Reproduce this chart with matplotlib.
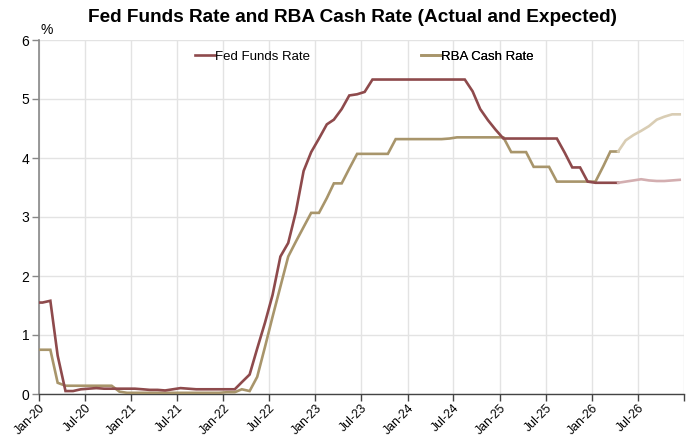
# Fed Funds Rate e RBA Cash Rate - atual e esperado
import numpy as np
import pandas as pd
import matplotlib
matplotlib.use("Agg")
import matplotlib.pyplot as plt
import matplotlib.dates as mdates

# =====================================================
# DADOS (medias mensais, dez/2019 a abr/2026)
# =====================================================

inicio_atual = "2019-12-01"

fed_atual = [
    1.55,
    1.55, 1.58, 0.65, 0.05, 0.05, 0.08, 0.09, 0.10, 0.09, 0.09, 0.09, 0.09,
    0.09, 0.08, 0.07, 0.07, 0.06, 0.08, 0.10, 0.09, 0.08, 0.08, 0.08, 0.08,
    0.08, 0.08, 0.20, 0.33, 0.77, 1.21, 1.68, 2.33, 2.56, 3.08, 3.78, 4.10,
    4.33, 4.57, 4.65, 4.83, 5.06, 5.08, 5.12, 5.33, 5.33, 5.33, 5.33, 5.33,
    5.33, 5.33, 5.33, 5.33, 5.33, 5.33, 5.33, 5.33, 5.13, 4.83, 4.64, 4.48,
    4.33, 4.33, 4.33, 4.33, 4.33, 4.33, 4.33, 4.33, 4.09, 3.84, 3.84, 3.60,
    3.58, 3.58, 3.58, 3.58,
]

rba_atual = [
    0.75,
    0.75, 0.75, 0.19, 0.14, 0.14, 0.14, 0.14, 0.14, 0.14, 0.14, 0.04, 0.02,
    0.02, 0.02, 0.02, 0.02, 0.02, 0.02, 0.02, 0.02, 0.02, 0.02, 0.02, 0.02,
    0.03, 0.03, 0.08, 0.05, 0.29, 0.80, 1.31, 1.82, 2.33, 2.58, 2.83, 3.07,
    3.07, 3.32, 3.57, 3.57, 3.82, 4.07, 4.07, 4.07, 4.07, 4.07, 4.32, 4.32,
    4.32, 4.32, 4.32, 4.32, 4.32, 4.33, 4.35, 4.35, 4.35, 4.35, 4.35, 4.35,
    4.35, 4.10, 4.10, 4.10, 3.85, 3.85, 3.85, 3.60, 3.60, 3.60, 3.60, 3.60,
    3.60, 3.86, 4.11, 4.11,
]

# esperado: abr/2026 a dez/2026
inicio_esperado = "2026-04-01"

fed_esperado = [3.58, 3.60, 3.62, 3.64, 3.62, 3.61, 3.61, 3.62, 3.63]
rba_esperado = [4.11, 4.30, 4.39, 4.46, 4.54, 4.65, 4.70, 4.74, 4.74]

datas_atual = pd.date_range(inicio_atual, periods=len(fed_atual), freq="MS") + pd.Timedelta(days=14)
datas_esp = pd.date_range(inicio_esperado, periods=len(fed_esperado), freq="MS") + pd.Timedelta(days=14)

# =====================================================
# CORES / FONTES
# =====================================================

cor_fed = "#8e4a4c"
cor_rba = "#a8956b"
cor_fed_esp = "#d3aeb0"
cor_rba_esp = "#d9cdb4"
cor_grade = "#e3e3e3"

plt.rcParams["font.family"] = ["Liberation Sans", "DejaVu Sans"]

# =====================================================
# FIGURA
# =====================================================

fig = plt.figure(figsize=(6.92, 4.37), dpi=100)
ax = fig.add_axes([39 / 692, 1 - 394 / 437, (684 - 39) / 692, (394 - 40) / 437])

l_fed, = ax.plot(datas_atual, fed_atual, color=cor_fed, lw=1.9,
                 solid_joinstyle="miter", zorder=4)
l_rba, = ax.plot(datas_atual, rba_atual, color=cor_rba, lw=1.9,
                 solid_joinstyle="miter", zorder=3)
ax.plot(datas_esp, fed_esperado, color=cor_fed_esp, lw=1.9, zorder=4)
ax.plot(datas_esp, rba_esperado, color=cor_rba_esp, lw=1.9, zorder=3)

ax.set_xlim(pd.Timestamp("2020-01-01"), pd.Timestamp("2027-01-01"))
ax.set_ylim(0, 6)

# =====================================================
# EIXOS E GRADE
# =====================================================

ticks_x = pd.date_range("2020-01-01", "2027-01-01", freq="6MS")
ax.set_xticks(ticks_x)
ax.set_xticklabels([d.strftime("%b-%y") if d.year < 2027 else "" for d in ticks_x],
                   rotation=45, ha="right", va="top", rotation_mode="anchor",
                   fontsize=8.8)
ax.set_yticks(range(0, 7))
ax.set_yticklabels([str(v) for v in range(0, 7)], fontsize=10)

ax.grid(True, color=cor_grade, lw=1.0, zorder=0)
ax.set_axisbelow(True)

for lado in ["top", "right"]:
    ax.spines[lado].set_visible(False)
ax.spines["left"].set_color("#888888")
ax.spines["bottom"].set_color("#444444")
ax.spines["left"].set_linewidth(1.2)
ax.spines["bottom"].set_linewidth(1.0)

ax.tick_params(axis="x", direction="out", length=5, width=1, color="#444444", pad=1)
ax.tick_params(axis="y", direction="out", length=5, width=1, color="#888888", pad=2)

# =====================================================
# TEXTOS
# =====================================================

fig.text(352 / 692, 1 - 18 / 437, "Fed Funds Rate and RBA Cash Rate (Actual and Expected)",
         ha="center", va="center", fontsize=13.7, fontweight="bold")
fig.text(47 / 692, 1 - 30 / 437, "%", ha="center", va="center", fontsize=10)

# legenda: duas entradas separadas, como no original
for linha, nome, x_px in [(l_fed, "Fed Funds Rate", 195), (l_rba, "RBA Cash Rate", 421)]:
    leg = ax.legend([linha], [nome], loc="center left",
                    bbox_to_anchor=((x_px - 39) / 645, (394 - 57) / 354),
                    frameon=False, fontsize=9.5, handlelength=1.5,
                    handletextpad=0.05, borderpad=0, borderaxespad=0)
    ax.add_artist(leg)

fig.savefig("out.png", dpi=100)
